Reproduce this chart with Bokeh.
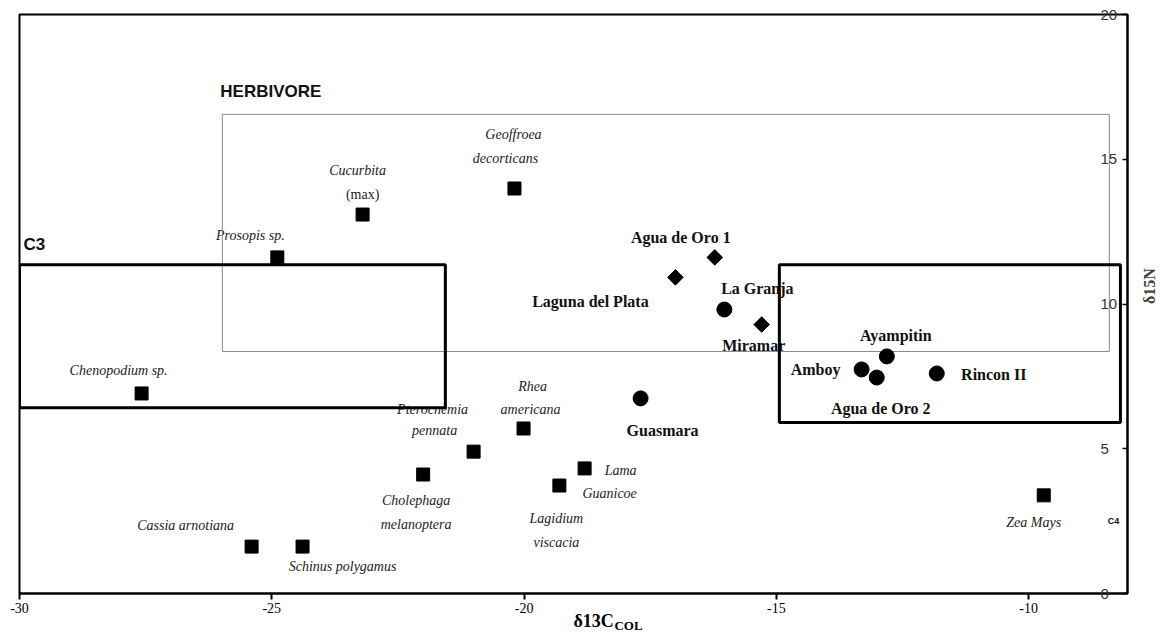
import math
from bokeh.plotting import figure
from bokeh.models import Range1d, LinearAxis, FixedTicker, ColumnDataSource
from bokeh.core.properties import value
from bokeh.embed import file_html
from bokeh.resources import INLINE

# ---------------- data ----------------
square_names = ["Chenopodium sp.", "Prosopis sp.", "Cucurbita (max)", "Geoffroea decorticans",
                "Pterocnemia pennata", "Rhea americana", "Cholephaga melanoptera", "Lama Guanicoe",
                "Lagidium viscacia", "Cassia arnotiana", "Schinus polygamus", "Zea Mays"]
square_x = [-27.58, -24.89, -23.20, -20.19, -21.00, -20.01, -22.00, -18.80, -19.30, -25.40, -24.39, -9.70]
square_y = [6.91, 11.61, 13.09, 13.99, 4.90, 5.70, 4.11, 4.32, 3.73, 1.62, 1.62, 3.39]

diamond_names = ["Agua de Oro 1", "Laguna del Plata", "Miramar"]
diamond_x = [-16.22, -17.00, -15.29]
diamond_y = [11.61, 10.92, 9.29]

circle_names = ["La Granja", "Guasmara", "Ayampitin", "Amboy", "Agua de Oro 2", "Rincon II"]
circle_x = [-16.03, -17.69, -12.81, -13.31, -13.01, -11.82]
circle_y = [9.81, 6.74, 8.19, 7.74, 7.46, 7.60]

# regions: [x0, x1, y0, y1]
herbivore_box = [-25.98, -8.40, 8.36, 16.55]
c3_box = [-30.0, -21.56, 6.42, 11.36]
c4_box = [-14.94, -8.18, 5.91, 11.36]

x_ticks = [-30, -25, -20, -15, -10]
x_tick_labels = ["-30", "-25", "-20", "-15", "-10"]
y_ticks = [0, 5, 10, 15, 20]
y_tick_labels = ["0", "5", "10", "15", "20"]

x_title = "δ13C"
x_title_sub = "COL"
y_title = "δ15N"

# ---------------- label layout (pixel offsets from marker) ----------------
# (point index, text, font style, dx, dy)
square_label_lines = [
    (0, "Chenopodium sp.", "italic", -23, -23),
    (1, "Prosopis sp.", "italic", -27, -22),
    (2, "Cucurbita", "italic", -5, -44),
    (2, "(max)", "normal", 0, -20),
    (3, "Geoffroea", "italic", -1, -54),
    (3, "decorticans", "italic", -9, -30),
    (4, "Pterocnemia", "italic", -41, -42),
    (4, "pennata", "italic", -39, -21),
    (5, "Rhea", "italic", 9, -42),
    (5, "americana", "italic", 7, -19),
    (6, "Cholephaga", "italic", -7, 26),
    (6, "melanoptera", "italic", -7, 50),
    (7, "Lama", "italic", 36, 2),
    (7, "Guanicoe", "italic", 25, 25),
    (8, "Lagidium", "italic", -3, 33),
    (8, "viscacia", "italic", -3, 57),
    (9, "Cassia arnotiana", "italic", -66, -21),
    (10, "Schinus polygamus", "italic", 40, 20),
    (11, "Zea Mays", "italic", -10, 27),
]
diamond_label_off = [(-34, -20), (-85, 24), (-8, 21)]
circle_label_off = [(33, -21), (22, 32), (9, -21), (-46, 0), (4, 31), (57, 1)]

p = figure(width=1172, height=636,
           x_range=Range1d(-30, -8.04), y_range=Range1d(0, 20),
           output_backend="svg", toolbar_location=None,
           min_border_left=19, min_border_top=14, min_border_right=45, min_border_bottom=43,
           y_axis_location=None)
p.grid.visible = False
p.outline_line_color = "black"
p.outline_line_width = 2
p.background_fill_color = "white"
p.border_fill_color = "white"

# bottom axis
xa = p.xaxis[0]
xa.ticker = FixedTicker(ticks=x_ticks)
xa.major_label_overrides = {t: l for t, l in zip(x_ticks, x_tick_labels)}
xa.major_tick_out = 6
xa.major_tick_in = 0
xa.minor_tick_line_color = None
xa.axis_line_width = 2
xa.major_tick_line_width = 2
xa.major_label_text_font = "Liberation Serif"
xa.major_label_text_font_size = "14px"
xa.major_label_text_color = "black"
xa.major_label_standoff = 3

# bottom axis title (main part + subscript) placed as single-tick helper axes
title_pos = -18.62
sub_pos = -17.93
bx = LinearAxis(ticker=FixedTicker(ticks=[title_pos]), major_label_overrides={title_pos: x_title},
                axis_line_color=None, major_tick_line_color=None, minor_tick_line_color=None,
                major_tick_out=0, major_tick_in=0, major_label_standoff=-5,
                major_label_text_font="Liberation Serif", major_label_text_font_style="bold",
                major_label_text_font_size="18px", major_label_text_color="black")
p.add_layout(bx, "below")
cx = LinearAxis(ticker=FixedTicker(ticks=[sub_pos]), major_label_overrides={sub_pos: x_title_sub},
                axis_line_color=None, major_tick_line_color=None, minor_tick_line_color=None,
                major_tick_out=0, major_tick_in=0, major_label_standoff=-16,
                major_label_text_font="Liberation Serif", major_label_text_font_style="bold",
                major_label_text_font_size="13px", major_label_text_color="black")
p.add_layout(cx, "below")

# right axis
ya = LinearAxis(ticker=FixedTicker(ticks=y_ticks))
ya.major_label_overrides = {t: l for t, l in zip(y_ticks, y_tick_labels)}
ya.major_tick_in = 5
ya.major_tick_out = 0
ya.minor_tick_line_color = None
ya.axis_line_width = 2
ya.major_tick_line_width = 1.5
ya.major_label_text_font = "Liberation Sans"
ya.major_label_text_font_size = "15px"
ya.major_label_text_color = "#333333"
ya.major_label_standoff = -27
ya.axis_label = y_title
ya.axis_label_text_font = "Liberation Serif"
ya.axis_label_text_font_style = "bold"
ya.axis_label_text_font_size = "16px"
ya.axis_label_standoff = 29
try:
    ya.axis_label_orientation = math.pi / 2
except Exception:
    pass
p.add_layout(ya, "right")

# italic labels (drawn before boxes)
sl_x = [square_x[i] for i, *_ in square_label_lines]
sl_y = [square_y[i] for i, *_ in square_label_lines]
sl_text = [t for _, t, *_ in square_label_lines]
sl_style = [s for _, _, s, _, _ in square_label_lines]
sl_dx = [dx for *_, dx, _ in square_label_lines]
sl_dy = [dy for *_, dy in square_label_lines]
src_sl = ColumnDataSource(dict(x=sl_x, y=sl_y, text=sl_text, style=sl_style, dx=sl_dx, dy=sl_dy))
p.text(x="x", y="y", text="text", x_offset="dx", y_offset="dy", source=src_sl,
       text_font=value("Liberation Serif"), text_font_style="style", text_font_size="14px",
       text_align="center", text_baseline="middle", text_color="#222222")

# bold site labels
src_dl = ColumnDataSource(dict(x=diamond_x, y=diamond_y, text=diamond_names,
                               dx=[o[0] for o in diamond_label_off], dy=[o[1] for o in diamond_label_off]))
src_cl = ColumnDataSource(dict(x=circle_x, y=circle_y, text=circle_names,
                               dx=[o[0] for o in circle_label_off], dy=[o[1] for o in circle_label_off]))
for s in (src_dl, src_cl):
    p.text(x="x", y="y", text="text", x_offset="dx", y_offset="dy", source=s,
           text_font=value("Liberation Serif"), text_font_style="bold", text_font_size="16px",
           text_align="center", text_baseline="middle", text_color="#111111")

# region boxes
p.quad(left=[herbivore_box[0]], right=[herbivore_box[1]], bottom=[herbivore_box[2]], top=[herbivore_box[3]],
       fill_color=None, line_color="#8a8a8a", line_width=1)
p.quad(left=[c3_box[0], c4_box[0]], right=[c3_box[1], c4_box[1]],
       bottom=[c3_box[2], c4_box[2]], top=[c3_box[3], c4_box[3]],
       fill_color=None, line_color="black", line_width=3)

# region titles
p.text(x=[herbivore_box[0]], y=[herbivore_box[3]], text=["HERBIVORE"], x_offset=-2, y_offset=-23,
       text_font=value("Liberation Sans"), text_font_style="bold", text_font_size="17px",
       text_align="left", text_baseline="middle", text_color="#111111")
p.text(x=[c3_box[0]], y=[c3_box[3]], text=["C3"], x_offset=4, y_offset=-20,
       text_font=value("Liberation Sans"), text_font_style="bold", text_font_size="17px",
       text_align="left", text_baseline="middle", text_color="#111111")
p.text(x=[c4_box[1]], y=[square_y[11]], text=["C4"], x_offset=-7, y_offset=26,
       text_font=value("Liberation Sans"), text_font_style="bold", text_font_size="9px",
       text_align="center", text_baseline="middle", text_color="#111111")

# markers
p.scatter(square_x, square_y, marker="square", size=13, fill_color="black", line_color="black")
p.scatter(diamond_x, diamond_y, marker="square", size=11, angle=math.pi / 4,
          fill_color="black", line_color="black")
p.scatter(circle_x, circle_y, marker="circle", size=15, fill_color="black", line_color="black")

open("out.html", "w").write(file_html(p, INLINE))
